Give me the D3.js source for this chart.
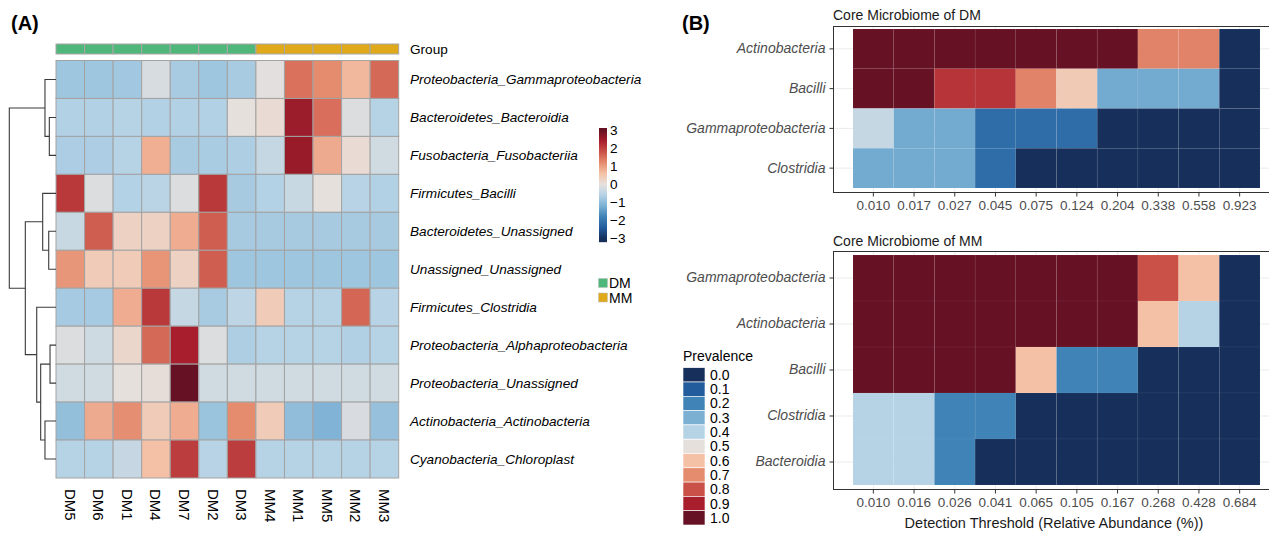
<!DOCTYPE html>
<html>
<head>
<meta charset="utf-8">
<script src="https://cdn.jsdelivr.net/npm/d3@7"></script>
<style>
  html, body { margin: 0; padding: 0; background: #fff; }
  svg { display: block; font-family: "Liberation Sans", Arial, Helvetica, sans-serif; }
</style>
</head>
<body>
<svg id="chart" width="1269" height="533"></svg>
<script>
// ---------- Panel A: z-scored abundance heatmap ----------
const sampleNames = ["DM5", "DM6", "DM1", "DM4", "DM7", "DM2", "DM3", "MM4", "MM1", "MM5", "MM2", "MM3"];
const sampleGroups = ["DM", "DM", "DM", "DM", "DM", "DM", "DM", "MM", "MM", "MM", "MM", "MM"];
const taxaNames = [
  "Proteobacteria_Gammaproteobacteria",
  "Bacteroidetes_Bacteroidia",
  "Fusobacteria_Fusobacteriia",
  "Firmicutes_Bacilli",
  "Bacteroidetes_Unassigned",
  "Unassigned_Unassigned",
  "Firmicutes_Clostridia",
  "Proteobacteria_Alphaproteobacteria",
  "Proteobacteria_Unassigned",
  "Actinobacteria_Actinobacteria",
  "Cyanobacteria_Chloroplast"
];
// one row per taxon, columns in sampleNames order
const zGamma       = [-0.83, -0.83, -0.80, -0.20, -0.73, -0.83, -0.73, -0.05, 1.47, 1.20, 0.70, 1.55];
const zBacteroidia = [-0.63, -0.63, -0.60, -0.63, -0.63, -0.63, 0.00, 0.10, 2.52, 1.50, -0.12, -0.60];
const zFuso        = [-0.70, -0.70, -0.60, 0.80, -0.73, -0.72, -0.68, -0.42, 2.55, 0.85, 0.10, -0.27];
const zBacilli     = [2.10, -0.12, -0.62, -0.55, -0.12, 2.10, -0.75, -0.62, -0.38, 0.00, -0.58, -0.63];
const zBactUnass   = [-0.38, 1.68, 0.27, 0.27, 0.83, 1.68, -0.75, -0.75, -0.75, -0.75, -0.75, -0.75];
const zUnassigned  = [1.08, 0.41, 0.41, 1.10, 0.27, 1.67, -0.83, -0.83, -0.83, -0.83, -0.83, -0.83];
const zClostridia  = [-0.76, -0.76, 0.83, 2.10, -0.42, -0.73, -0.50, 0.40, -0.60, -0.60, 1.58, -0.58];
const zAlpha       = [-0.12, -0.30, 0.20, 1.55, 2.40, -0.12, -0.68, -0.60, -0.60, -0.60, -0.65, -0.60];
const zProtUnass   = [-0.29, -0.29, 0.00, 0.05, 3.00, -0.29, -0.29, -0.29, -0.29, -0.29, -0.29, -0.29];
const zActino      = [-0.95, 0.85, 1.17, 0.40, 0.83, -0.88, 1.20, 0.40, -0.97, -1.15, -0.18, -0.92];
const zCyano       = [-0.60, -0.60, -0.40, 0.60, 2.04, -0.58, 2.04, -0.60, -0.60, -0.60, -0.60, -0.60];
const zScores = [zGamma, zBacteroidia, zFuso, zBacilli, zBactUnass, zUnassigned,
                 zClostridia, zAlpha, zProtUnass, zActino, zCyano];

// row clustering (hclust-style: negative = leaf row, positive = earlier merge), relative height
const rowMerges = [
  [-2, -3, 0.143],
  [-1, 1, 0.236],
  [-5, -6, 0.156],
  [-4, 3, 0.285],
  [-8, -9, 0.128],
  [-10, -11, 0.236],
  [5, 6, 0.328],
  [-7, 7, 0.413],
  [4, 8, 0.657],
  [2, 9, 1.0]
];

const groupNames = ["DM", "MM"];
const groupColors = ["#50b77a", "#dfa91b"];
const zLegendTicks = [3, 2, 1, 0, -1, -2, -3];

// ---------- Panel B: core microbiome prevalence ----------
const prevalenceLevels = [0.0, 0.1, 0.2, 0.3, 0.4, 0.5, 0.6, 0.7, 0.8, 0.9, 1.0];
const paletteColors = ["#17305b", "#225c9d", "#3f83b7", "#7bb0d3", "#b6d3e6", "#e6e0dd",
                       "#f5c1a6", "#e58b6e", "#ca5148", "#a81e2c", "#671224"];

const dmTaxa = ["Actinobacteria", "Bacilli", "Gammaproteobacteria", "Clostridia"];
const dmThresholds = ["0.010", "0.017", "0.027", "0.045", "0.075", "0.124", "0.204", "0.338", "0.558", "0.923"];
const dmActinobacteria = [1, 1, 1, 1, 1, 1, 1, 0.714, 0.714, 0];
const dmBacilli = [1, 1, 0.857, 0.857, 0.714, 0.571, 0.286, 0.286, 0.286, 0];
const dmGammaproteobacteria = [0.429, 0.286, 0.286, 0.143, 0.143, 0.143, 0, 0, 0, 0];
const dmClostridia = [0.286, 0.286, 0.286, 0.143, 0, 0, 0, 0, 0, 0];
const dmPrevalence = [dmActinobacteria, dmBacilli, dmGammaproteobacteria, dmClostridia];

const mmTaxa = ["Gammaproteobacteria", "Actinobacteria", "Bacilli", "Clostridia", "Bacteroidia"];
const mmThresholds = ["0.010", "0.016", "0.026", "0.041", "0.065", "0.105", "0.167", "0.268", "0.428", "0.684"];
const mmGammaproteobacteria = [1, 1, 1, 1, 1, 1, 1, 0.8, 0.6, 0];
const mmActinobacteria = [1, 1, 1, 1, 1, 1, 1, 0.6, 0.4, 0];
const mmBacilli = [1, 1, 1, 1, 0.6, 0.2, 0.2, 0, 0, 0];
const mmClostridia = [0.4, 0.4, 0.2, 0.2, 0, 0, 0, 0, 0, 0];
const mmBacteroidia = [0.4, 0.4, 0.2, 0, 0, 0, 0, 0, 0, 0];
const mmPrevalence = [mmGammaproteobacteria, mmActinobacteria, mmBacilli, mmClostridia, mmBacteroidia];

// ---------------------------------------------------------
const svg = d3.select("#chart");
const FONT_A = 13.6;
const FONT_B = 14;

// panel tags
svg.append("text").attr("x", 11).attr("y", 30).attr("font-size", 20).attr("font-weight", "bold").text("(A)");
svg.append("text").attr("x", 682).attr("y", 30).attr("font-size", 20).attr("font-weight", "bold").text("(B)");

// ---- Panel A ----
const xA = d3.scaleBand().domain(sampleNames).range([56, 398.7]);
const yA = d3.scaleBand().domain(taxaNames).range([60.5, 478]);
const zColor = d3.scaleLinear()
  .domain(prevalenceLevels.map(p => -3 + 6 * p))
  .range(paletteColors)
  .clamp(true);
const groupColor = d3.scaleOrdinal().domain(groupNames).range(groupColors);

const gA = svg.append("g");

// group annotation strip
gA.selectAll("rect.grp").data(sampleNames).join("rect")
  .attr("class", "grp")
  .attr("x", d => xA(d)).attr("y", 44)
  .attr("width", xA.bandwidth()).attr("height", 10)
  .attr("fill", (d, i) => groupColor(sampleGroups[i]))
  .attr("stroke", "#a8a8a8").attr("stroke-width", 1);
gA.append("text").attr("x", 410).attr("y", 49).attr("dominant-baseline", "central")
  .attr("font-size", FONT_A).text("Group");

// heatmap cells
const cells = [];
zScores.forEach((row, r) => row.forEach((v, c) => cells.push({ taxon: taxaNames[r], sample: sampleNames[c], v })));
gA.selectAll("rect.cell").data(cells).join("rect")
  .attr("class", "cell")
  .attr("x", d => xA(d.sample)).attr("y", d => yA(d.taxon))
  .attr("width", xA.bandwidth()).attr("height", yA.bandwidth())
  .attr("fill", d => zColor(d.v))
  .attr("stroke", "#a3a3a3").attr("stroke-width", 1);

// row labels
gA.selectAll("text.rowlab").data(taxaNames).join("text")
  .attr("class", "rowlab")
  .attr("x", 410).attr("y", d => yA(d) + yA.bandwidth() / 2)
  .attr("dominant-baseline", "central")
  .attr("font-size", FONT_A).attr("font-style", "italic")
  .text(d => d);

// column labels (rotated)
gA.selectAll("text.collab").data(sampleNames).join("text")
  .attr("class", "collab")
  .attr("transform", d => `translate(${xA(d) + xA.bandwidth() / 2},489) rotate(90)`)
  .attr("dominant-baseline", "central")
  .attr("font-size", 15)
  .text(d => d);

// row dendrogram
const leafX = 56;
const hx = d3.scaleLinear().domain([0, 1]).range([leafX, 9.3]);
const leafY = i => yA(taxaNames[i]) + yA.bandwidth() / 2;
const mergeNodes = [];
const posOf = ref => ref < 0 ? { x: leafX, y: leafY(-ref - 1) } : mergeNodes[ref - 1];
const dendroPaths = [];
rowMerges.forEach(([a, b, h]) => {
  const pa = posOf(a), pb = posOf(b), mx = hx(h);
  mergeNodes.push({ x: mx, y: (pa.y + pb.y) / 2 });
  dendroPaths.push(`M${pa.x},${pa.y}H${mx}V${pb.y}H${pb.x}`);
});
gA.selectAll("path.dendro").data(dendroPaths).join("path")
  .attr("class", "dendro").attr("d", d => d)
  .attr("fill", "none").attr("stroke", "#3a3a3a").attr("stroke-width", 1.1);

// z-score colour key
const keyY = d3.scaleLinear().domain([3, -3]).range([130, 238.5]);
const keySteps = d3.range(128, 242, 1);
gA.selectAll("rect.key").data(keySteps).join("rect")
  .attr("class", "key")
  .attr("x", 599).attr("y", d => d).attr("width", 8).attr("height", 1.2)
  .attr("fill", d => zColor(keyY.invert(d + 0.5)));
gA.selectAll("text.keylab").data(zLegendTicks).join("text")
  .attr("class", "keylab")
  .attr("x", 610).attr("y", d => keyY(d))
  .attr("dominant-baseline", "central").attr("font-size", FONT_A)
  .text(d => d < 0 ? "\u2212" + Math.abs(d) : String(d));

// group key
groupNames.forEach((g, i) => {
  gA.append("rect").attr("x", 598.5).attr("y", 278.5 + i * 14.5).attr("width", 9).attr("height", 9)
    .attr("fill", groupColor(g)).attr("stroke", "#bdbdbd").attr("stroke-width", 0.5);
  gA.append("text").attr("x", 609).attr("y", 283 + i * 14.5).attr("dominant-baseline", "central")
    .attr("font-size", 14).text(g);
});

// ---- Panel B ----
const prevColor = d3.scaleLinear().domain(prevalenceLevels).range(paletteColors).clamp(true);

function corePanel(cfg) {
  const g = svg.append("g");
  const x = d3.scaleBand().domain(cfg.thresholds).range([853, 1260]);
  const y = d3.scaleBand().domain(cfg.taxa).range([cfg.tileTop, cfg.tileBottom]);
  const left = 833, right = 1290;

  g.append("rect").attr("x", left).attr("y", cfg.top).attr("width", right - left)
    .attr("height", cfg.bottom - cfg.top).attr("fill", "#fff");

  // grid
  g.selectAll("line.gx").data(cfg.thresholds).join("line")
    .attr("x1", d => x(d) + x.bandwidth() / 2).attr("x2", d => x(d) + x.bandwidth() / 2)
    .attr("y1", cfg.top).attr("y2", cfg.bottom)
    .attr("stroke", "#ebebeb").attr("stroke-width", 1);
  g.selectAll("line.gy").data(cfg.taxa).join("line")
    .attr("y1", d => y(d) + y.bandwidth() / 2).attr("y2", d => y(d) + y.bandwidth() / 2)
    .attr("x1", left).attr("x2", right)
    .attr("stroke", "#ebebeb").attr("stroke-width", 1);

  // tiles
  const tiles = [];
  cfg.values.forEach((row, r) => row.forEach((v, c) => tiles.push({ taxon: cfg.taxa[r], thr: cfg.thresholds[c], v })));
  g.selectAll("rect.tile").data(tiles).join("rect")
    .attr("x", d => x(d.thr)).attr("y", d => y(d.taxon))
    .attr("width", x.bandwidth()).attr("height", y.bandwidth())
    .attr("fill", d => prevColor(d.v))
    .attr("stroke", "rgba(255,255,255,0.05)").attr("stroke-width", 0.8);

  // border
  g.append("rect").attr("x", left + 0.5).attr("y", cfg.top + 0.5).attr("width", right - left)
    .attr("height", cfg.bottom - cfg.top).attr("fill", "none")
    .attr("stroke", "#333").attr("stroke-width", 1);

  // axes
  const ax = g.append("g").attr("transform", `translate(0,${cfg.bottom + 0.5})`)
    .call(d3.axisBottom(x).tickSize(4).tickPadding(4));
  const ay = g.append("g").attr("transform", `translate(${left + 0.5},0)`)
    .call(d3.axisLeft(y).tickSize(4).tickPadding(4));
  [ax, ay].forEach(a => {
    a.select(".domain").remove();
    a.selectAll(".tick line").attr("stroke", "#333");
    a.selectAll(".tick text").attr("fill", "#4d4d4d")
      .attr("font-family", "'Liberation Sans', Arial, sans-serif");
  });
  ax.selectAll(".tick text").attr("font-size", 13.5);
  ay.selectAll(".tick text").attr("font-size", FONT_B).attr("font-style", "italic");

  g.append("text").attr("x", left).attr("y", cfg.titleY).attr("dominant-baseline", "central")
    .attr("font-size", FONT_B).attr("fill", "#1a1a1a").text(cfg.title);
  return { x, y };
}

corePanel({
  title: "Core Microbiome of DM", titleY: 15,
  taxa: dmTaxa, thresholds: dmThresholds, values: dmPrevalence,
  top: 26, bottom: 192, tileTop: 29, tileBottom: 188
});
corePanel({
  title: "Core Microbiome of MM", titleY: 241,
  taxa: mmTaxa, thresholds: mmThresholds, values: mmPrevalence,
  top: 251, bottom: 489, tileTop: 255, tileBottom: 485
});

svg.append("text").attr("x", 1054).attr("y", 523).attr("text-anchor", "middle")
  .attr("dominant-baseline", "central").attr("font-size", 14.5).attr("fill", "#1a1a1a")
  .text("Detection Threshold (Relative Abundance (%))");

// prevalence legend
const lg = svg.append("g");
lg.append("text").attr("x", 683).attr("y", 356).attr("dominant-baseline", "central")
  .attr("font-size", FONT_B).text("Prevalence");
const swatchY = d3.scaleBand().domain(prevalenceLevels).range([367.7, 525]);
lg.selectAll("rect.sw").data(prevalenceLevels).join("rect")
  .attr("x", 683).attr("y", d => swatchY(d)).attr("width", 22).attr("height", swatchY.bandwidth())
  .attr("fill", d => prevColor(d)).attr("stroke", "#fff").attr("stroke-width", 0.6);
lg.selectAll("text.sl").data(prevalenceLevels).join("text")
  .attr("x", 710).attr("y", d => swatchY(d) + swatchY.bandwidth() / 2)
  .attr("dominant-baseline", "central").attr("font-size", FONT_B)
  .text(d => d.toFixed(1));
</script>
</body>
</html>
